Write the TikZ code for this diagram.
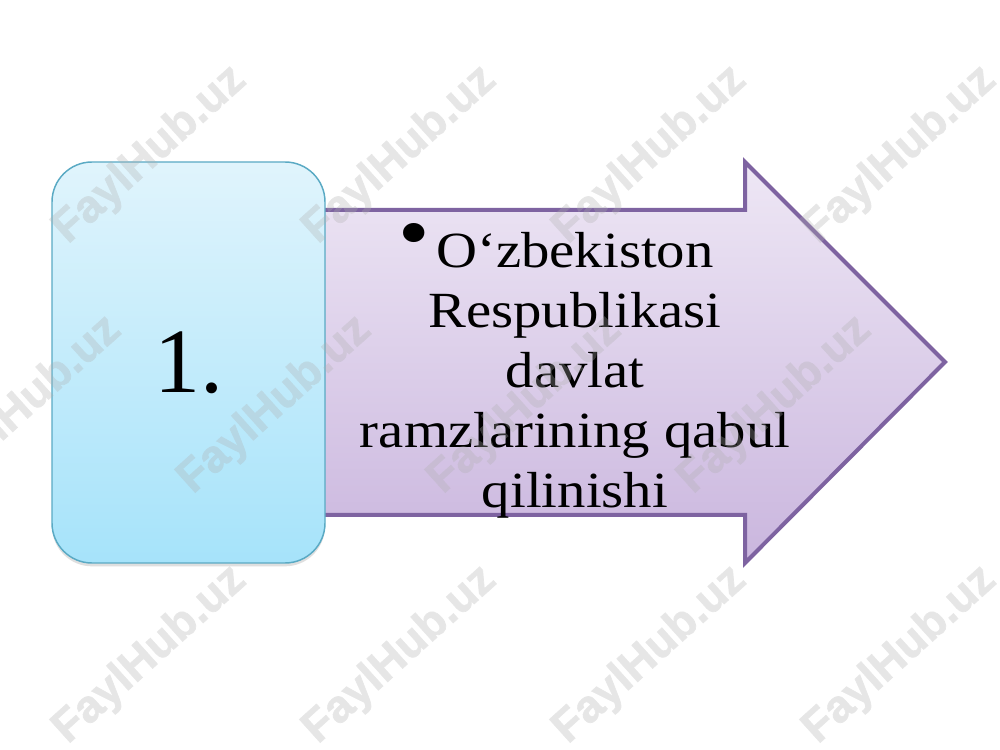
\documentclass[tikz,border=0pt]{standalone}
\usepackage{fontspec}
\setmainfont{Liberation Serif}
\newfontfamily\arrfont{Liberation Serif}[FakeStretch=1.12]
\newfontfamily\wmfont{Liberation Sans}[FakeBold=1.5]
\usetikzlibrary{shadows}
\definecolor{boxtop}{HTML}{E0F4FC}
\definecolor{boxbot}{HTML}{A6E3FA}
\definecolor{boxline}{HTML}{5AAAC4}
\definecolor{arrtop}{HTML}{EEE7F5}
\definecolor{arrbot}{HTML}{CAB6DE}
\definecolor{arrline}{HTML}{7E63A1}
\tikzset{
  numbox/.style={draw=boxline, line width=1.1pt, rounded corners=30pt,
    top color=boxtop, bottom color=boxbot,
    minimum width=273*0.75pt, minimum height=401*0.75pt, inner sep=0pt,
    drop shadow={opacity=0.25, shadow xshift=0pt, shadow yshift=-2.5pt},
    font=\fontsize{69}{69}\selectfont},
  bigarrow/.style={draw=arrline, line width=3pt, line join=miter,
    top color=arrtop, bottom color=arrbot},
  arrtext/.style={align=center, inner sep=0pt, font=\arrfont\fontsize{38}{45}\selectfont},
  wmark/.style={rotate=42, text=gray!63, inner sep=0pt,
    font=\wmfont\bfseries\fontsize{34}{34}\selectfont}
}
\begin{document}
\begin{tikzpicture}[x=0.75pt, y=0.75pt]
\clip (0,0) rectangle (1000,750);
\fill[white] (0,0) rectangle (1000,750);
% arrow
\draw[bigarrow] (300,540) -- (745,540) -- (745,588) -- (945,388)
   -- (745,187) -- (745,235) -- (300,235) -- cycle;
% number box
\node[numbox] (num) at (188.5,387.5) {1.};
% arrow text
\node[arrtext] (txt) at (575,379)
  {\llap{\raisebox{6pt}{\fontsize{60}{60}\selectfont\textbullet}\hspace{5pt}}O‘zbekiston\\
   Respublikasi\\ davlat\\ ramzlarining qabul\\ qilinishi};
% watermarks
\begin{scope}[transparency group, opacity=0.3]
\foreach \x/\n in {150/a,400/b,650/c,900/d} {
  \node[wmark] (wt\n) at (\x,595) {FaylHub.uz};
  \node[wmark] (wb\n) at (\x,95) {FaylHub.uz};
}
\foreach \x/\n in {25/a,275/b,525/c,775/d} {
  \node[wmark] (wm\n) at (\x,345) {FaylHub.uz};
}
\end{scope}
\end{tikzpicture}
\end{document}
